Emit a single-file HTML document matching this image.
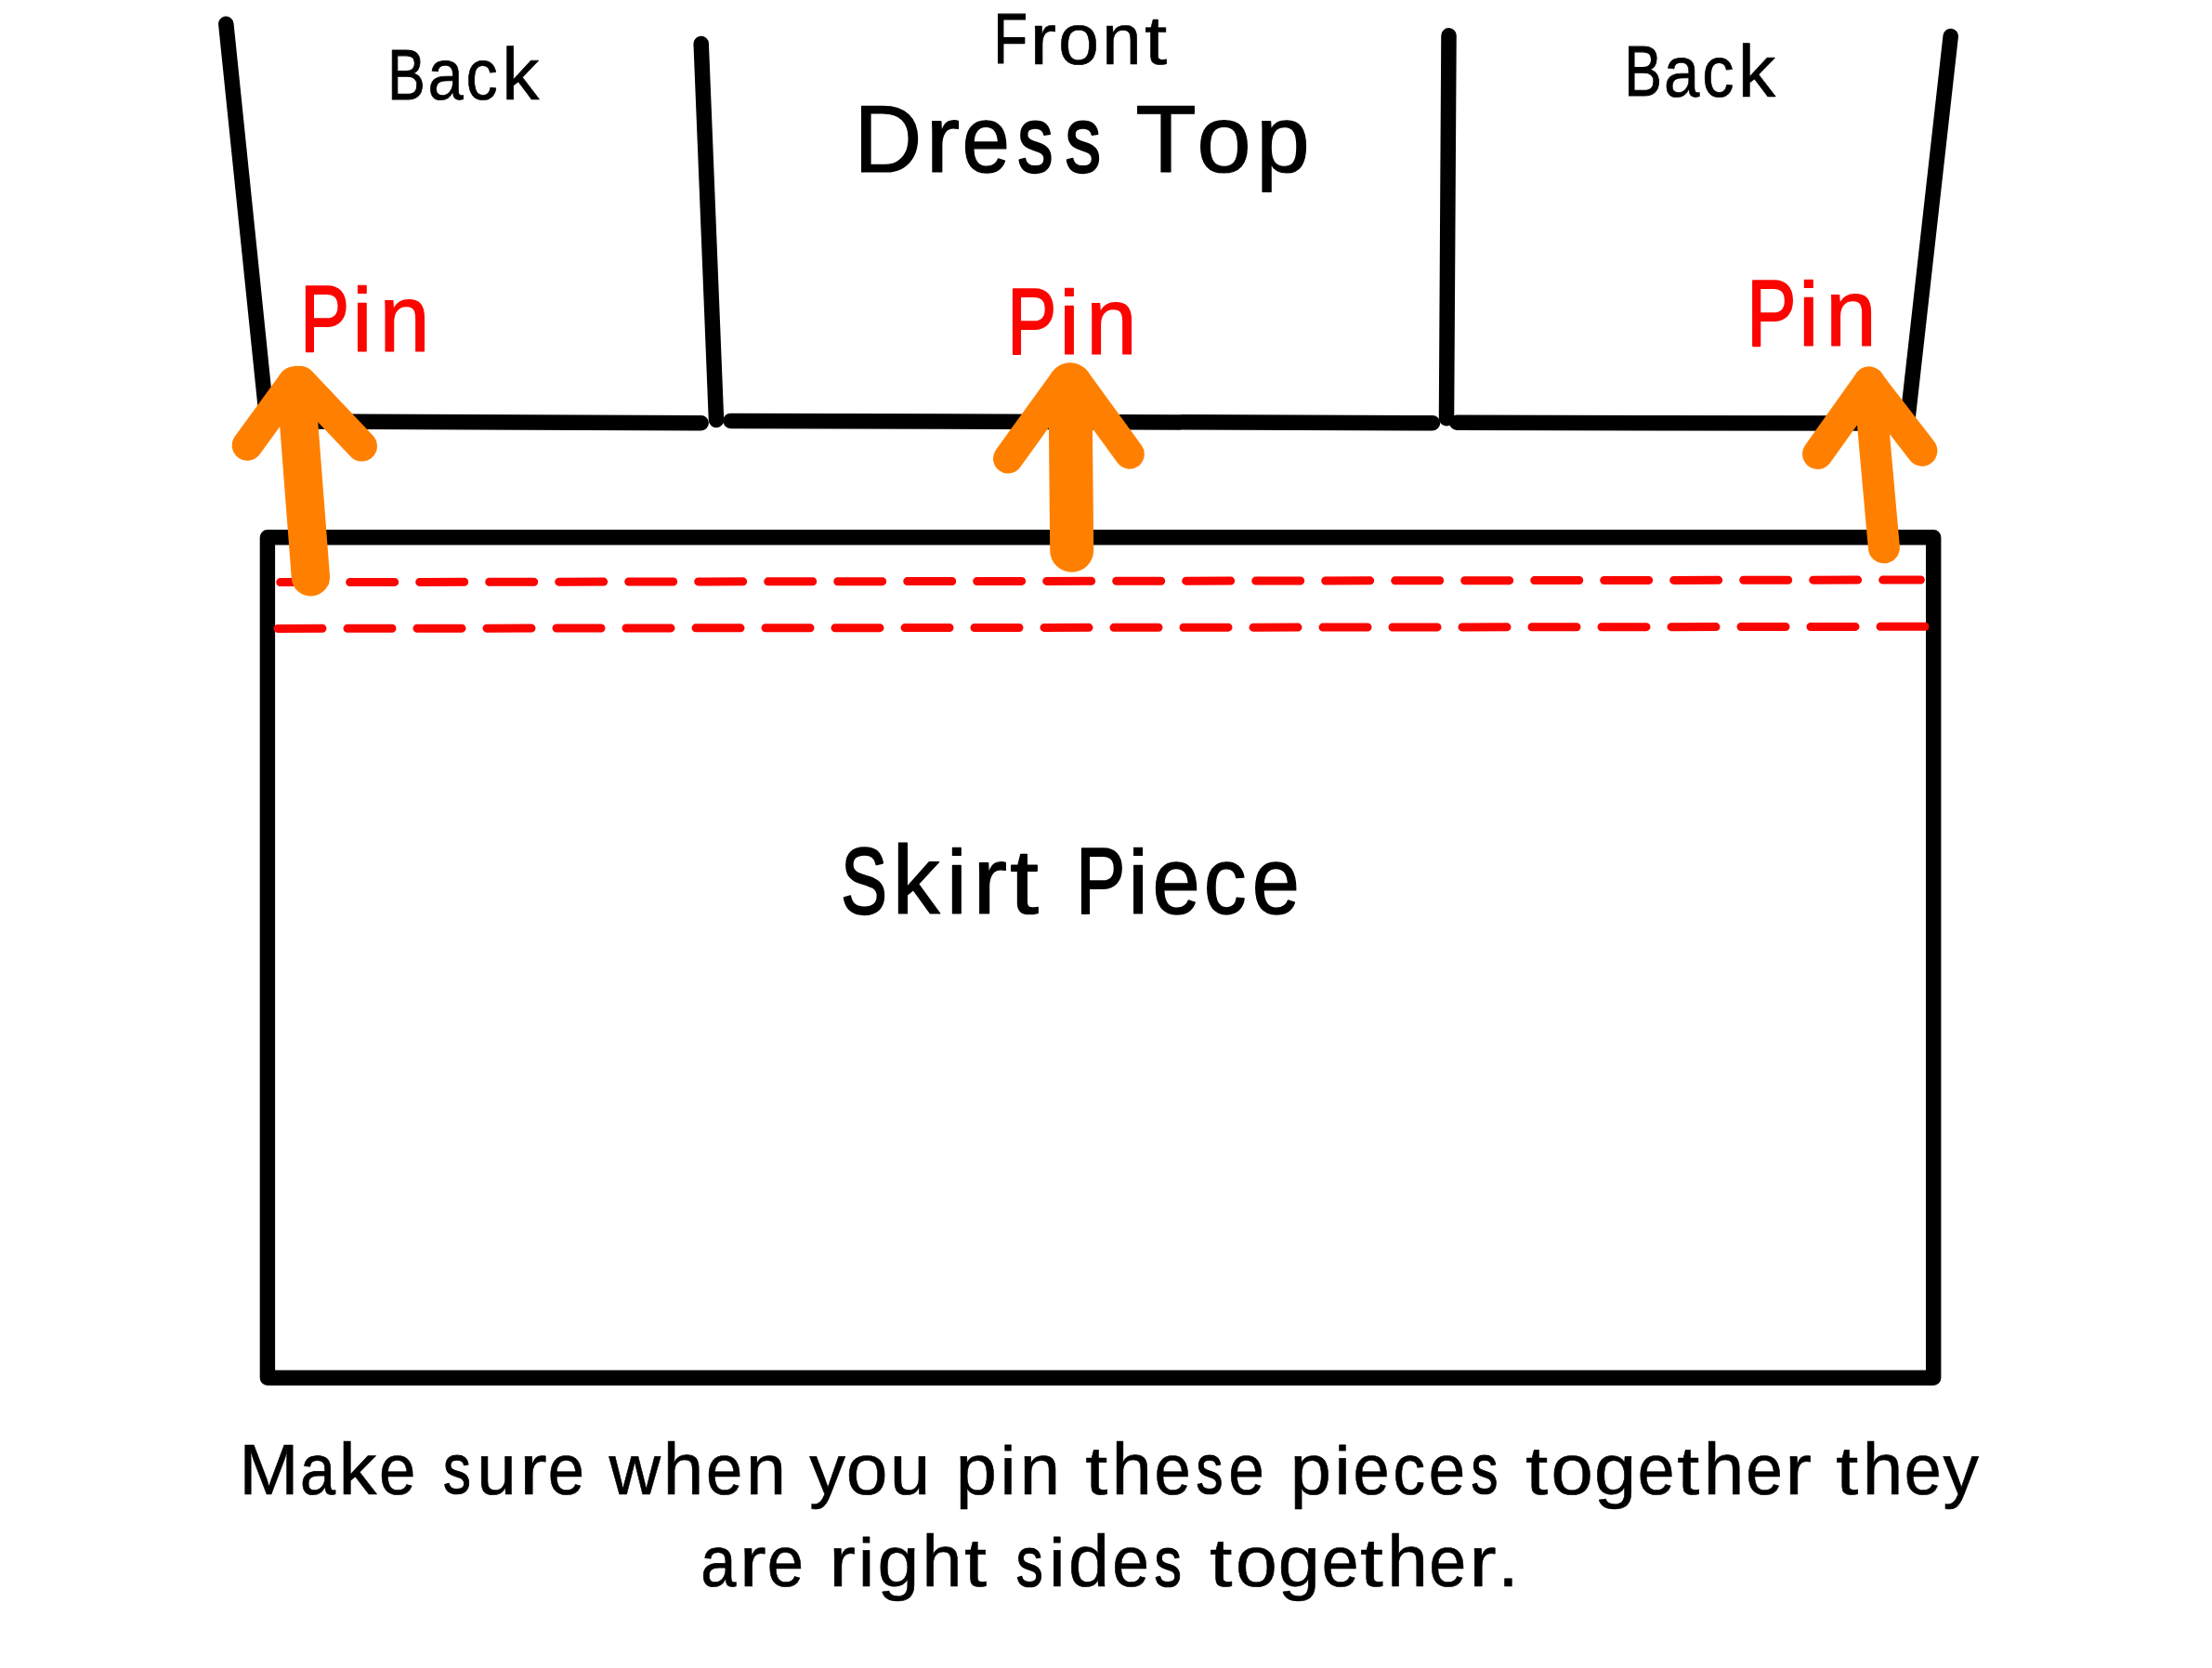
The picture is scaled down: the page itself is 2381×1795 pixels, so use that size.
<!DOCTYPE html>
<html lang="en">
<head>
<meta charset="utf-8">
<title>Pin skirt piece to dress top</title>
<style>
html,body{margin:0;padding:0;background:#fff;}
body{width:2381px;height:1795px;overflow:hidden;font-family:"Liberation Sans",sans-serif;}
svg{display:block;position:absolute;left:0;top:0;}
text{font-family:"Liberation Sans",sans-serif;white-space:pre;text-rendering:geometricPrecision;}
</style>
</head>
<body>
<svg width="2381" height="1795" viewBox="0 0 2381 1795">
<rect x="0" y="0" width="2381" height="1795" fill="#ffffff"/>
<!-- dress top outline -->
<g fill="none" stroke="#000" stroke-width="16.5" stroke-linecap="round" stroke-linejoin="round">
<line x1="243.3" y1="25.8" x2="287" y2="450"/>
<line x1="325" y1="453.5" x2="754.7" y2="455.2"/>
<line x1="754.7" y1="47" x2="771" y2="452"/>
<line x1="786.5" y1="452.9" x2="1542" y2="455.2"/>
<line x1="1559.5" y1="38.3" x2="1557" y2="450.3"/>
<line x1="1568.3" y1="454.8" x2="2040" y2="455.6"/>
<line x1="2099.7" y1="39" x2="2053" y2="455"/>
<!-- skirt piece -->
<rect x="287.9" y="578.2" width="1793.3" height="904.6" stroke-width="16.4"/>
</g>
<!-- stitching lines -->
<g fill="none" stroke="#fb0500" stroke-width="9" stroke-linecap="round" stroke-dasharray="48 27">
<line x1="301.7" y1="626.6" x2="2067.4" y2="624.0"/>
<line x1="299" y1="676.4" x2="2074" y2="674.3"/>
</g>
<!-- arrows -->
<g fill="none" stroke="#ff8000" stroke-linecap="round" stroke-linejoin="round">
<line x1="266.2" y1="479.2" x2="315.3" y2="411.9" stroke-width="33"/>
<line x1="389.5" y1="480.1" x2="323.2" y2="410.2" stroke-width="33"/>
<line x1="318.5" y1="414.5" x2="334.4" y2="620.9" stroke-width="41.3"/>
<line x1="1085" y1="493.5" x2="1146" y2="409.2" stroke-width="32"/>
<line x1="1215.8" y1="488.7" x2="1158.1" y2="409.3" stroke-width="32"/>
<line x1="1152" y1="413.7" x2="1153.7" y2="592.2" stroke-width="47"/>
<polyline points="1956.6,488.5 2011.7,411.1 2068.9,485.2" stroke-width="33"/>
<line x1="2012" y1="411.6" x2="2027.9" y2="589.3" stroke-width="34"/>
</g>
<!-- labels -->
<text id="t_back1" fill="#000" stroke="#000" stroke-linejoin="round"><tspan x="417.37" y="106.54" font-size="76.89" stroke-width="1.11" textLength="40.39" lengthAdjust="spacingAndGlyphs">B</tspan><tspan x="460.39" y="106.74" font-size="77.47" stroke-width="0.71" textLength="38.29" lengthAdjust="spacingAndGlyphs">a</tspan><tspan x="501.41" y="106.74" font-size="77.45" stroke-width="0.72" textLength="34.17" lengthAdjust="spacingAndGlyphs">c</tspan><tspan x="540.19" y="106.80" font-size="79.18" stroke-width="0.6" textLength="40.19" lengthAdjust="spacingAndGlyphs">k</tspan></text>
<text id="t_front" fill="#000" stroke="#000" stroke-linejoin="round"><tspan x="1069.54" y="68.43" font-size="76.84" stroke-width="1.14" textLength="36.51" lengthAdjust="spacingAndGlyphs">F</tspan><tspan x="1108.54" y="68.70" font-size="77.63" stroke-width="0.6" textLength="28.56" lengthAdjust="spacingAndGlyphs">r</tspan><tspan x="1139.08" y="68.70" font-size="77.63" stroke-width="0.6" textLength="44.04" lengthAdjust="spacingAndGlyphs">o</tspan><tspan x="1186.23" y="68.70" font-size="77.63" stroke-width="0.6" textLength="42.43" lengthAdjust="spacingAndGlyphs">n</tspan><tspan x="1232.03" y="68.70" font-size="74.29" stroke-width="0.6" textLength="24.26" lengthAdjust="spacingAndGlyphs">t</tspan></text>
<text id="t_dress" fill="#000" stroke="#000" stroke-linejoin="round"><tspan x="919.28" y="185.10" font-size="102.76" stroke-width="1.2" textLength="73.18" lengthAdjust="spacingAndGlyphs">D</tspan><tspan x="996.26" y="185.10" font-size="102.76" stroke-width="1.2" textLength="37.03" lengthAdjust="spacingAndGlyphs">r</tspan><tspan x="1035.44" y="185.06" font-size="102.64" stroke-width="1.28" textLength="51.49" lengthAdjust="spacingAndGlyphs">e</tspan><tspan x="1095.37" y="184.51" font-size="101.04" stroke-width="2.38" textLength="38.30" lengthAdjust="spacingAndGlyphs">s</tspan><tspan x="1146.45" y="184.53" font-size="101.10" stroke-width="2.34" textLength="38.55" lengthAdjust="spacingAndGlyphs">s</tspan> <tspan x="1222.32" y="185.10" font-size="102.76" stroke-width="1.2" textLength="65.52" lengthAdjust="spacingAndGlyphs">T</tspan><tspan x="1288.20" y="185.10" font-size="102.76" stroke-width="1.2" textLength="58.51" lengthAdjust="spacingAndGlyphs">o</tspan><tspan x="1352.00" y="185.10" font-size="102.76" stroke-width="1.2" textLength="57.86" lengthAdjust="spacingAndGlyphs">p</tspan></text>
<text id="t_back2" fill="#000" stroke="#000" stroke-linejoin="round"><tspan x="1748.39" y="103.34" font-size="76.87" stroke-width="1.12" textLength="40.25" lengthAdjust="spacingAndGlyphs">B</tspan><tspan x="1790.89" y="103.55" font-size="77.47" stroke-width="0.71" textLength="38.29" lengthAdjust="spacingAndGlyphs">a</tspan><tspan x="1832.31" y="103.54" font-size="77.45" stroke-width="0.72" textLength="34.17" lengthAdjust="spacingAndGlyphs">c</tspan><tspan x="1870.86" y="103.60" font-size="79.18" stroke-width="0.6" textLength="40.42" lengthAdjust="spacingAndGlyphs">k</tspan></text>
<text id="t_pin1" fill="#fb0500" stroke="#fb0500" stroke-linejoin="round"><tspan x="323.30" y="377.57" font-size="101.22" stroke-width="2.26" textLength="52.68" lengthAdjust="spacingAndGlyphs">P</tspan><tspan x="379.06" y="378.10" font-size="97.62" stroke-width="1.2" textLength="21.73" lengthAdjust="spacingAndGlyphs">i</tspan><tspan x="408.26" y="378.10" font-size="102.76" stroke-width="1.2" textLength="54.53" lengthAdjust="spacingAndGlyphs">n</tspan></text>
<text id="t_pin2" fill="#fb0500" stroke="#fb0500" stroke-linejoin="round"><tspan x="1084.26" y="380.78" font-size="101.26" stroke-width="2.23" textLength="52.95" lengthAdjust="spacingAndGlyphs">P</tspan><tspan x="1139.90" y="381.30" font-size="97.62" stroke-width="1.2" textLength="21.95" lengthAdjust="spacingAndGlyphs">i</tspan><tspan x="1169.02" y="381.30" font-size="102.76" stroke-width="1.2" textLength="54.92" lengthAdjust="spacingAndGlyphs">n</tspan></text>
<text id="t_pin3" fill="#fb0500" stroke="#fb0500" stroke-linejoin="round"><tspan x="1880.38" y="371.77" font-size="101.23" stroke-width="2.25" textLength="52.81" lengthAdjust="spacingAndGlyphs">P</tspan><tspan x="1935.84" y="372.30" font-size="97.62" stroke-width="1.2" textLength="22.18" lengthAdjust="spacingAndGlyphs">i</tspan><tspan x="1965.02" y="372.30" font-size="102.76" stroke-width="1.2" textLength="54.92" lengthAdjust="spacingAndGlyphs">n</tspan></text>
<text id="t_skirt" fill="#000" stroke="#000" stroke-linejoin="round"><tspan x="905.21" y="982.80" font-size="101.01" stroke-width="2.4" textLength="49.51" lengthAdjust="spacingAndGlyphs">S</tspan><tspan x="960.59" y="983.40" font-size="104.81" stroke-width="1.2" textLength="51.17" lengthAdjust="spacingAndGlyphs">k</tspan><tspan x="1018.84" y="983.40" font-size="97.62" stroke-width="1.2" textLength="22.18" lengthAdjust="spacingAndGlyphs">i</tspan><tspan x="1047.14" y="983.40" font-size="102.76" stroke-width="1.2" textLength="37.16" lengthAdjust="spacingAndGlyphs">r</tspan><tspan x="1087.09" y="983.40" font-size="98.34" stroke-width="1.2" textLength="31.05" lengthAdjust="spacingAndGlyphs">t</tspan> <tspan x="1158.26" y="982.88" font-size="101.26" stroke-width="2.23" textLength="52.95" lengthAdjust="spacingAndGlyphs">P</tspan><tspan x="1214.14" y="983.40" font-size="97.62" stroke-width="1.2" textLength="22.18" lengthAdjust="spacingAndGlyphs">i</tspan><tspan x="1240.38" y="983.34" font-size="102.58" stroke-width="1.32" textLength="51.22" lengthAdjust="spacingAndGlyphs">e</tspan><tspan x="1295.69" y="983.34" font-size="102.58" stroke-width="1.32" textLength="45.94" lengthAdjust="spacingAndGlyphs">c</tspan><tspan x="1347.68" y="983.34" font-size="102.58" stroke-width="1.32" textLength="51.22" lengthAdjust="spacingAndGlyphs">e</tspan></text>
<text id="t_cap1" fill="#000" stroke="#000" stroke-linejoin="round"><tspan x="257.41" y="1607.60" font-size="77.13" stroke-width="0.6" textLength="63.89" lengthAdjust="spacingAndGlyphs">M</tspan><tspan x="323.11" y="1607.55" font-size="76.97" stroke-width="0.71" textLength="38.08" lengthAdjust="spacingAndGlyphs">a</tspan><tspan x="364.59" y="1607.60" font-size="78.67" stroke-width="0.6" textLength="40.98" lengthAdjust="spacingAndGlyphs">k</tspan><tspan x="408.07" y="1607.60" font-size="77.13" stroke-width="0.6" textLength="39.41" lengthAdjust="spacingAndGlyphs">e</tspan> <tspan x="477.08" y="1607.34" font-size="76.37" stroke-width="1.12" textLength="29.84" lengthAdjust="spacingAndGlyphs">s</tspan><tspan x="513.14" y="1607.60" font-size="77.13" stroke-width="0.6" textLength="42.43" lengthAdjust="spacingAndGlyphs">u</tspan><tspan x="559.37" y="1607.60" font-size="77.13" stroke-width="0.6" textLength="29.45" lengthAdjust="spacingAndGlyphs">r</tspan><tspan x="589.87" y="1607.60" font-size="77.13" stroke-width="0.6" textLength="39.29" lengthAdjust="spacingAndGlyphs">e</tspan> <tspan x="655.61" y="1607.60" font-size="77.13" stroke-width="0.6" textLength="55.50" lengthAdjust="spacingAndGlyphs">w</tspan><tspan x="713.67" y="1607.60" font-size="78.67" stroke-width="0.6" textLength="43.51" lengthAdjust="spacingAndGlyphs">h</tspan><tspan x="760.07" y="1607.60" font-size="77.13" stroke-width="0.6" textLength="39.29" lengthAdjust="spacingAndGlyphs">e</tspan><tspan x="802.97" y="1607.60" font-size="77.13" stroke-width="0.6" textLength="42.94" lengthAdjust="spacingAndGlyphs">n</tspan> <tspan x="871.21" y="1607.60" font-size="77.13" stroke-width="0.6" textLength="38.84" lengthAdjust="spacingAndGlyphs">y</tspan><tspan x="910.84" y="1607.60" font-size="77.13" stroke-width="0.6" textLength="44.73" lengthAdjust="spacingAndGlyphs">o</tspan><tspan x="957.96" y="1607.60" font-size="77.13" stroke-width="0.6" textLength="43.20" lengthAdjust="spacingAndGlyphs">u</tspan> <tspan x="1028.79" y="1607.60" font-size="77.13" stroke-width="0.6" textLength="44.13" lengthAdjust="spacingAndGlyphs">p</tspan><tspan x="1076.69" y="1607.60" font-size="73.27" stroke-width="0.6" textLength="16.65" lengthAdjust="spacingAndGlyphs">i</tspan><tspan x="1097.73" y="1607.60" font-size="77.13" stroke-width="0.6" textLength="43.33" lengthAdjust="spacingAndGlyphs">n</tspan> <tspan x="1168.34" y="1607.60" font-size="73.81" stroke-width="0.6" textLength="24.04" lengthAdjust="spacingAndGlyphs">t</tspan><tspan x="1196.74" y="1607.60" font-size="78.67" stroke-width="0.6" textLength="42.99" lengthAdjust="spacingAndGlyphs">h</tspan><tspan x="1242.47" y="1607.60" font-size="77.13" stroke-width="0.6" textLength="39.29" lengthAdjust="spacingAndGlyphs">e</tspan><tspan x="1287.45" y="1607.30" font-size="76.26" stroke-width="1.2" textLength="28.89" lengthAdjust="spacingAndGlyphs">s</tspan><tspan x="1322.24" y="1607.58" font-size="77.06" stroke-width="0.65" textLength="38.65" lengthAdjust="spacingAndGlyphs">e</tspan> <tspan x="1388.79" y="1607.60" font-size="77.13" stroke-width="0.6" textLength="44.13" lengthAdjust="spacingAndGlyphs">p</tspan><tspan x="1436.56" y="1607.60" font-size="73.27" stroke-width="0.6" textLength="17.11" lengthAdjust="spacingAndGlyphs">i</tspan><tspan x="1456.49" y="1607.60" font-size="77.11" stroke-width="0.61" textLength="39.16" lengthAdjust="spacingAndGlyphs">e</tspan><tspan x="1499.46" y="1607.57" font-size="77.04" stroke-width="0.66" textLength="34.57" lengthAdjust="spacingAndGlyphs">c</tspan><tspan x="1537.87" y="1607.60" font-size="77.13" stroke-width="0.6" textLength="39.41" lengthAdjust="spacingAndGlyphs">e</tspan><tspan x="1583.45" y="1607.30" font-size="76.26" stroke-width="1.2" textLength="28.89" lengthAdjust="spacingAndGlyphs">s</tspan> <tspan x="1642.24" y="1607.60" font-size="73.81" stroke-width="0.6" textLength="24.04" lengthAdjust="spacingAndGlyphs">t</tspan><tspan x="1669.40" y="1607.60" font-size="77.13" stroke-width="0.6" textLength="45.31" lengthAdjust="spacingAndGlyphs">o</tspan><tspan x="1716.00" y="1607.60" font-size="77.13" stroke-width="0.6" textLength="45.22" lengthAdjust="spacingAndGlyphs">g</tspan><tspan x="1762.84" y="1607.60" font-size="77.13" stroke-width="0.6" textLength="39.76" lengthAdjust="spacingAndGlyphs">e</tspan><tspan x="1805.34" y="1607.60" font-size="73.81" stroke-width="0.6" textLength="24.04" lengthAdjust="spacingAndGlyphs">t</tspan><tspan x="1833.77" y="1607.60" font-size="78.67" stroke-width="0.6" textLength="43.51" lengthAdjust="spacingAndGlyphs">h</tspan><tspan x="1879.15" y="1607.60" font-size="77.13" stroke-width="0.6" textLength="39.64" lengthAdjust="spacingAndGlyphs">e</tspan><tspan x="1921.39" y="1607.60" font-size="77.13" stroke-width="0.6" textLength="28.81" lengthAdjust="spacingAndGlyphs">r</tspan> <tspan x="1976.34" y="1607.60" font-size="73.81" stroke-width="0.6" textLength="24.04" lengthAdjust="spacingAndGlyphs">t</tspan><tspan x="2004.77" y="1607.60" font-size="78.67" stroke-width="0.6" textLength="43.51" lengthAdjust="spacingAndGlyphs">h</tspan><tspan x="2049.83" y="1607.60" font-size="77.13" stroke-width="0.6" textLength="39.99" lengthAdjust="spacingAndGlyphs">e</tspan><tspan x="2091.41" y="1607.60" font-size="77.13" stroke-width="0.6" textLength="38.54" lengthAdjust="spacingAndGlyphs">y</tspan></text>
<text id="t_cap2" fill="#000" stroke="#000" stroke-linejoin="round"><tspan x="754.31" y="1707.35" font-size="76.97" stroke-width="0.71" textLength="38.08" lengthAdjust="spacingAndGlyphs">a</tspan><tspan x="796.02" y="1707.40" font-size="77.13" stroke-width="0.6" textLength="28.68" lengthAdjust="spacingAndGlyphs">r</tspan><tspan x="825.77" y="1707.40" font-size="77.13" stroke-width="0.6" textLength="39.29" lengthAdjust="spacingAndGlyphs">e</tspan> <tspan x="892.39" y="1707.40" font-size="77.13" stroke-width="0.6" textLength="28.81" lengthAdjust="spacingAndGlyphs">r</tspan><tspan x="923.83" y="1707.40" font-size="73.27" stroke-width="0.6" textLength="17.57" lengthAdjust="spacingAndGlyphs">i</tspan><tspan x="944.63" y="1707.40" font-size="77.13" stroke-width="0.6" textLength="44.86" lengthAdjust="spacingAndGlyphs">g</tspan><tspan x="992.54" y="1707.40" font-size="78.67" stroke-width="0.6" textLength="42.99" lengthAdjust="spacingAndGlyphs">h</tspan><tspan x="1038.04" y="1707.40" font-size="73.81" stroke-width="0.6" textLength="24.04" lengthAdjust="spacingAndGlyphs">t</tspan> <tspan x="1093.65" y="1707.10" font-size="76.26" stroke-width="1.2" textLength="28.89" lengthAdjust="spacingAndGlyphs">s</tspan><tspan x="1128.93" y="1707.40" font-size="73.27" stroke-width="0.6" textLength="17.57" lengthAdjust="spacingAndGlyphs">i</tspan><tspan x="1149.97" y="1707.40" font-size="78.67" stroke-width="0.6" textLength="44.14" lengthAdjust="spacingAndGlyphs">d</tspan><tspan x="1197.14" y="1707.40" font-size="77.13" stroke-width="0.6" textLength="39.76" lengthAdjust="spacingAndGlyphs">e</tspan><tspan x="1242.61" y="1707.12" font-size="76.31" stroke-width="1.16" textLength="29.36" lengthAdjust="spacingAndGlyphs">s</tspan> <tspan x="1302.03" y="1707.40" font-size="73.81" stroke-width="0.6" textLength="24.46" lengthAdjust="spacingAndGlyphs">t</tspan><tspan x="1330.14" y="1707.40" font-size="77.13" stroke-width="0.6" textLength="44.73" lengthAdjust="spacingAndGlyphs">o</tspan><tspan x="1375.71" y="1707.40" font-size="77.13" stroke-width="0.6" textLength="45.10" lengthAdjust="spacingAndGlyphs">g</tspan><tspan x="1422.84" y="1707.40" font-size="77.13" stroke-width="0.6" textLength="39.76" lengthAdjust="spacingAndGlyphs">e</tspan><tspan x="1464.11" y="1707.40" font-size="73.81" stroke-width="0.6" textLength="24.78" lengthAdjust="spacingAndGlyphs">t</tspan><tspan x="1493.16" y="1707.40" font-size="78.67" stroke-width="0.6" textLength="43.64" lengthAdjust="spacingAndGlyphs">h</tspan><tspan x="1538.33" y="1707.40" font-size="77.13" stroke-width="0.6" textLength="39.99" lengthAdjust="spacingAndGlyphs">e</tspan><tspan x="1581.17" y="1707.40" font-size="77.13" stroke-width="0.6" textLength="29.45" lengthAdjust="spacingAndGlyphs">r</tspan><tspan x="1612.16" y="1707.40" font-size="77.13" stroke-width="0.6" textLength="22.39" lengthAdjust="spacingAndGlyphs">.</tspan></text>
</svg>
</body>
</html>
